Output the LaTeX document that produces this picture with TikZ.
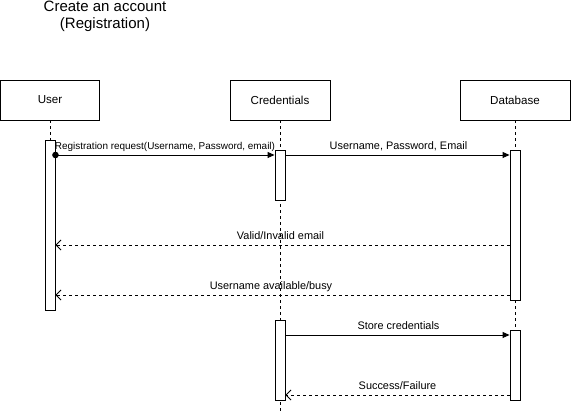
\documentclass[tikz,border=0pt]{standalone}
\usepackage{fontspec}
\setmainfont{Liberation Sans}
\usetikzlibrary{arrows.meta}
\begin{document}
\begin{tikzpicture}[x=1pt,y=-1pt,
  head/.style={draw, line width=0.9pt, minimum height=40pt, inner sep=0pt, font=\fontsize{11.6}{13}\selectfont},
  actbar/.style={draw, line width=0.9pt, fill=white, minimum width=10pt, inner sep=0pt},
  lifeline/.style={line width=0.9pt, dash pattern=on 3pt off 3pt},
  msg/.style={line width=0.9pt, -{Triangle[length=7pt,width=6pt]}},
  ret/.style={line width=0.9pt, dash pattern=on 3pt off 3pt, -{Straight Barb[length=5pt,width=10pt,line width=0.9pt]}},
  lbl/.style={font=\fontsize{10.9}{12}\selectfont, inner sep=0pt, anchor=base},
  smalllbl/.style={font=\fontsize{9.95}{11}\selectfont, inner sep=0pt, anchor=base}
]
\useasboundingbox (0,0) rectangle (571,411);
\node[font=\fontsize{15}{17}\selectfont, align=center] (title) at (105,16) {Create an account\\(Registration)};
\node[head, minimum width=99pt] (user) at (50,100) {User};
\node[head, minimum width=100pt] (cred) at (280,100) {Credentials};
\node[head, minimum width=110pt] (db) at (515,100) {Database};
\coordinate (credend) at (280,411);
\coordinate (dbend) at (515,400);
\coordinate (userend) at (50,140);
% lifelines
\draw[lifeline] (user.south) -- (userend);
\draw[lifeline] (cred.south) -- (credend);
\draw[lifeline] (db.south) -- (dbend);
% activation bars
\node[actbar, minimum height=170pt] (ua) at (50,225) {};
\node[actbar, minimum height=50pt] (ca1) at (280,175) {};
\node[actbar, minimum height=150pt] (da1) at (515,225) {};
\node[actbar, minimum height=80pt] (ca2) at (280,360) {};
\node[actbar, minimum height=70pt] (da2) at (515,365) {};
% message levels
\coordinate (y1) at (0,155);
\coordinate (y2) at (0,245);
\coordinate (y3) at (0,295);
\coordinate (y4) at (0,335);
\coordinate (y5) at (0,395);
% messages
\fill (ua.east |- y1) circle (3.3pt);
\draw[msg] (ua.east |- y1) -- (ca1.west |- y1);
\node[smalllbl] (l1) at (165,150) {Registration request(Username, Password, email)};
\draw[msg] (ca1.east |- y1) -- (da1.west |- y1);
\node[lbl] (l2) at (398.5,150) {Username, Password, Email};
\draw[ret] (da1.west |- y2) -- (ua.east |- y2);
\node[lbl] (l3) at (280.5,240) {Valid/Invalid email};
\draw[ret] (da1.west |- y3) -- (ua.east |- y3);
\node[lbl] (l4) at (271,290) {Username available/busy};
\draw[msg] (ca2.east |- y4) -- (da2.west |- y4);
\node[lbl] (l5) at (398.5,330) {Store credentials};
\draw[ret] (da2.west |- y5) -- (ca2.east |- y5);
\node[lbl] (l6) at (397.5,390) {Success/Failure};
\end{tikzpicture}
\end{document}
